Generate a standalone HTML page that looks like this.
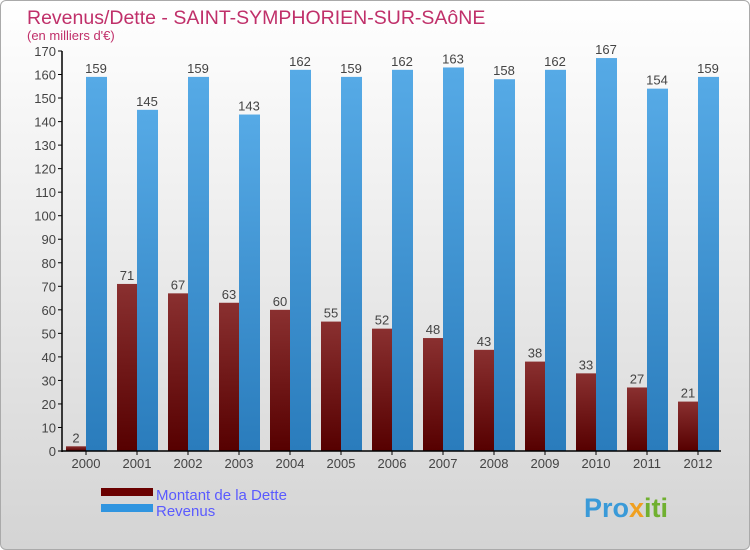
<!DOCTYPE html>
<html><head><meta charset="utf-8"><style>
body{margin:0}
#c{width:748px;height:548px;border:1px solid #aaa;border-radius:6px;background:linear-gradient(#fff,#d4d4d4);position:relative;overflow:hidden;font-family:"Liberation Sans","DejaVu Sans",sans-serif}
</style></head><body>
<div id="c">
<svg width="748" height="548" id="s">
<defs>
<linearGradient id="gd" x1="0" y1="0" x2="0" y2="1"><stop offset="0" stop-color="#8a3030"/><stop offset="1" stop-color="#560000"/></linearGradient>
<linearGradient id="gr" x1="0" y1="0" x2="0" y2="1"><stop offset="0" stop-color="#56aae6"/><stop offset="1" stop-color="#2a7cbc"/></linearGradient>
</defs>
<text x="26" y="23" font-size="19.5" fill="#c0306a">Revenus/Dette - SAINT-SYMPHORIEN-SUR-SAôNE</text>
<text x="26" y="39" font-size="13" fill="#c0306a">(en milliers d'€)</text>
<g id="g"></g>
<rect x="100" y="487" width="52" height="8" fill="#6a0000"/>
<rect x="100" y="503" width="52" height="8" fill="#3095e0"/>
<text x="155" y="499" font-size="15" fill="#5a5aff">Montant de la Dette</text>
<text x="155" y="515" font-size="15" fill="#5a5aff">Revenus</text>
<text x="583" y="516" font-size="27" font-weight="bold" fill="#3a9ad8">Pro<tspan fill="#f0a020">x</tspan><tspan fill="#70b030">iti</tspan></text>
</svg></div>
<script>
const years=["2000","2001","2002","2003","2004","2005","2006","2007","2008","2009","2010","2011","2012"];
const dette=[2,71,67,63,60,55,52,48,43,38,33,27,21];
const revenus=[159,145,159,143,162,159,162,163,158,162,167,154,159];
const ticks=[0,10,20,30,40,50,60,70,80,90,100,110,120,130,140,150,160,170];
const NS="http://www.w3.org/2000/svg";
const g=document.getElementById('g');
const y=v=>450-v*400/170;
const xc=i=>85+i*51;
function mk(t,a){const e=document.createElementNS(NS,t);for(const k in a)e.setAttribute(k,a[k]);g.appendChild(e);return e;}
ticks.forEach(t=>{
 const l=mk('line',{x1:57,x2:61,y1:y(t),y2:y(t),stroke:'#000'});
 
 
 const tx=mk('text',{x:55,y:y(t)+5,'font-size':13,'text-anchor':'end',fill:'#444'});tx.textContent=t;
 
 
});
years.forEach((yr,i)=>{
 const x=xc(i);
 const b1=mk('rect',{x:x-20,y:y(dette[i]),width:20,height:450-y(dette[i]),fill:'url(#gd)'});
 
 
 const b2=mk('rect',{x:x,y:y(revenus[i]),width:21,height:450-y(revenus[i]),fill:'url(#gr)'});
 
 
 const t1=mk('text',{x:x-10,y:y(dette[i])-4,'font-size':13,'text-anchor':'middle',fill:'#444'});t1.textContent=dette[i];
 
 
 const t2=mk('text',{x:x+10,y:y(revenus[i])-4,'font-size':13,'text-anchor':'middle',fill:'#444'});t2.textContent=revenus[i];
 
 
 const xl=mk('line',{x1:x,x2:x,y1:450,y2:454,stroke:'#000'});
 
 
 const tl=mk('text',{x:x,y:467,'font-size':13,'text-anchor':'middle',fill:'#444'});tl.textContent=yr;
 
 
});
const ya=mk('line',{x1:61,x2:61,y1:50,y2:451,stroke:'#000','stroke-width':1.5});


const xa=mk('line',{x1:61,x2:720,y1:450,y2:450,stroke:'#000','stroke-width':1.5});


</script>
</body></html>
